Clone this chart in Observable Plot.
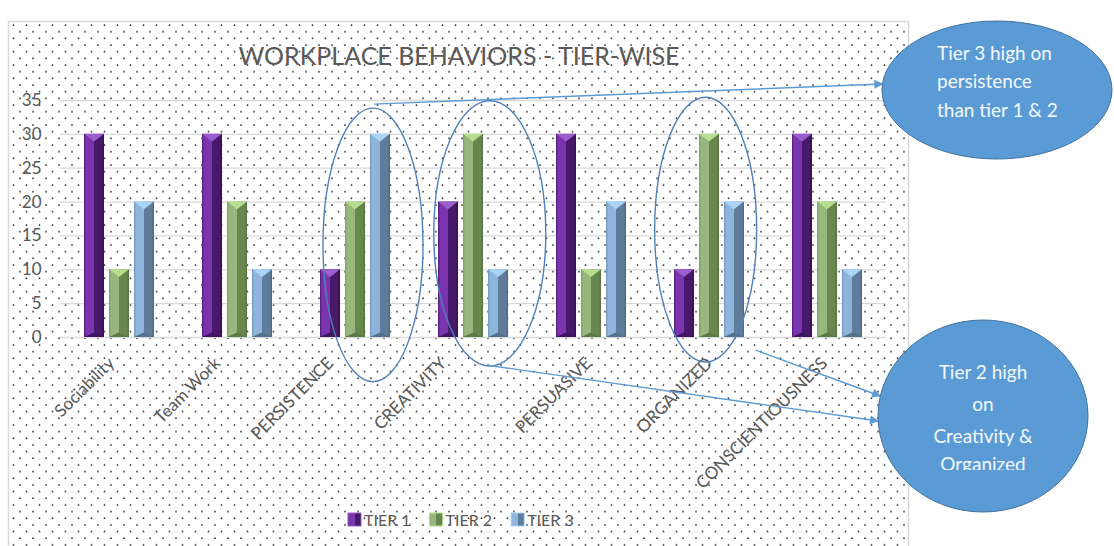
<!DOCTYPE html>
<html>
<head>
<meta charset="utf-8">
<script src="https://cdn.jsdelivr.net/npm/d3@7"></script>
<script src="https://cdn.jsdelivr.net/npm/@observablehq/plot@0.6"></script>
<style>
  html, body { margin: 0; padding: 0; background: #fff; }
  #chart { width: 1114px; height: 546px; overflow: hidden; }
  #chart svg g[aria-label^="fx-axis"] text { font-size: 17px; }
</style>
</head>
<body>
<div id="chart"></div>
<script>
// Behaviour categories and the score of each tier
const categories = ["Sociability", "Team Work", "PERSISTENCE", "CREATIVITY", "PERSUASIVE", "ORGANIZED", "CONSCIENTIOUSNESS"];
const tiers = ["TIER 1", "TIER 2", "TIER 3"];
const tier1 = [30, 30, 10, 20, 30, 10, 30];
const tier2 = [10, 20, 20, 30, 10, 30, 20];
const tier3 = [20, 10, 30, 10, 20, 20, 10];
const yTicks = [0, 5, 10, 15, 20, 25, 30, 35];

const title = "WORKPLACE BEHAVIORS - TIER-WISE";
const noteTop = ["Tier 3 high on", "persistence", "than tier 1 & 2"];
const noteBottom = ["Tier 2 high", "on", "Creativity &", "Organized"];

// horizontal nudge (px) of each slanted category label
const labelNudge = [-8, -20, -25, -30, -3, 0, -3];

const rows = categories.flatMap((category, i) => [
  {category, tier: tiers[0], value: tier1[i]},
  {category, tier: tiers[1], value: tier2[i]},
  {category, tier: tiers[2], value: tier3[i]}
]);

// bevelled column shading per tier
const bevel = [
  {edge: "#4d1b74", light: "#7a34ae", shade: "#48196b", deep: "#300f4b", top: "#9b5dcc", foot: "#3e1561"},
  {edge: "#7b9b61", light: "#96b87c", shade: "#68874f", deep: "#56723f", top: "#b6df8f", foot: "#5c7946"},
  {edge: "#6f93b7", light: "#8fb5dc", shade: "#5f7d9b", deep: "#4b6580", top: "#aad4f8", foot: "#55708b"}
];

const W = 1114, H = 546;

const plot = Plot.plot({
  width: W,
  height: H,
  marginLeft: 58,
  marginRight: 227,
  marginTop: 100,
  marginBottom: 209,
  style: {background: "transparent", fontFamily: "Lato, sans-serif", fontSize: "17px", color: "#595959", overflow: "visible"},
  facet: {data: rows, x: "category"},
  fx: {domain: categories, padding: 0, axis: "bottom", tickRotate: -45, tickSize: 0, tickPadding: 23, label: null},
  x: {domain: tiers, axis: null, paddingInner: 0.2, paddingOuter: 0.92},
  y: {domain: [0, 35], ticks: yTicks, tickSize: 0, tickPadding: 19, label: null},
  color: {domain: tiers, range: tiers.map((t, i) => `url(#bevel-${i})`)},
  marks: [
    Plot.ruleY(yTicks, {stroke: "#d9d9d9", strokeWidth: 1.3}),
    Plot.barY(rows, {x: "tier", y: "value", fill: "tier", inset: 0})
  ]
});

document.getElementById("chart").appendChild(plot);

const svg = d3.select(plot);
const ns = "http://www.w3.org/2000/svg";

// shift each slanted category label sideways
svg.selectAll('g[aria-label^="fx-axis"] text').each(function () {
  const k = categories.indexOf(this.textContent);
  if (k < 0) return;
  const t = this.getAttribute("transform") || "";
  this.setAttribute("transform", `translate(${labelNudge[k]},0) ${t}`);
});

// chart-area backdrop with the dotted fill
const backdrop = svg.insert("g", ":first-child");
const defs = svg.insert("defs", ":first-child");

const dots = defs.append("pattern")
  .attr("id", "dots").attr("patternUnits", "userSpaceOnUse")
  .attr("x", 17).attr("y", 28.7).attr("width", 13).attr("height", 13.33);
dots.append("circle").attr("cx", 3).attr("cy", 3).attr("r", 0.9).attr("fill", "#2a2a2a");
dots.append("circle").attr("cx", 9.5).attr("cy", 9.67).attr("r", 0.9).attr("fill", "#2a2a2a");

bevel.forEach((b, i) => {
  const g = defs.append("linearGradient").attr("id", `bevel-${i}`)
    .attr("x1", 0).attr("x2", 1).attr("y1", 0).attr("y2", 0);
  [[0, b.edge], [0.1, b.light], [0.5, b.light], [0.5, b.shade], [0.88, b.shade], [1, b.deep]]
    .forEach(([o, c]) => g.append("stop").attr("offset", o).attr("stop-color", c));
});

defs.append("marker").attr("id", "head")
  .attr("viewBox", "0 0 10 10").attr("refX", 9).attr("refY", 5)
  .attr("markerUnits", "userSpaceOnUse").attr("markerWidth", 11).attr("markerHeight", 9)
  .attr("orient", "auto")
  .append("path").attr("d", "M0,0L10,5L0,10Z").attr("fill", "#5b9bd5");

backdrop.append("rect").attr("x", 8.5).attr("y", 21.5).attr("width", 900).attr("height", 560)
  .attr("fill", "#fff");
backdrop.append("rect").attr("x", 8.5).attr("y", 21.5).attr("width", 900).attr("height", 560)
  .attr("fill", "url(#dots)").attr("stroke", "#d9d9d9").attr("stroke-width", 1.5);

// top and foot bevels on every column
svg.selectAll('g[aria-label="bar"] rect').each(function () {
  const r = d3.select(this);
  const x = +r.attr("x"), y = +r.attr("y"), w = +r.attr("width"), h = +r.attr("height");
  const m = /bevel-(\d)/.exec(r.attr("fill"));
  if (!m) return;
  const b = bevel[+m[1]];
  const t = Math.min(w * 0.38, h / 2);
  const top = document.createElementNS(ns, "polygon");
  top.setAttribute("points", `${x},${y} ${x + w},${y} ${x + w / 2},${y + t}`);
  top.setAttribute("fill", b.top);
  const foot = document.createElementNS(ns, "polygon");
  foot.setAttribute("points", `${x},${y + h} ${x + w},${y + h} ${x + w / 2},${y + h - t * 0.6}`);
  foot.setAttribute("fill", b.foot);
  this.parentNode.appendChild(top);
  this.parentNode.appendChild(foot);
});

// title
svg.append("text").attr("x", 459).attr("y", 65).attr("text-anchor", "middle")
  .attr("font-family", "Lato, sans-serif").attr("font-size", 25).attr("fill", "#595959")
  .text(title);

// legend
const color = plot.scale("color");
const legend = svg.append("g").attr("font-family", "Lato, sans-serif").attr("font-size", 16)
  .attr("fill", "#595959").attr("text-anchor", "start");
let lx = 348;
tiers.forEach((t, i) => {
  legend.append("rect").attr("x", lx).attr("y", 513).attr("width", 13).attr("height", 13)
    .attr("fill", color.apply(t)).attr("stroke", bevel[i].top).attr("stroke-width", 1);
  const label = legend.append("text").attr("x", lx + 16).attr("y", 526).text(t);
  lx += 16 + label.node().getComputedTextLength() + 19;
});

// annotations: circled groups, arrows and call-out bubbles
const fx = plot.scale("fx"), y = plot.scale("y");
const bw = (fx.range[1] - fx.range[0]) / categories.length;

const circled = [
  {category: "PERSISTENCE", at: 0.65, rx: 50, top: 33.8, bottom: -6.6},
  {category: "CREATIVITY", at: 0.64, rx: 56, top: 34.9, bottom: -4.3},
  {category: "ORGANIZED", at: 0.47, rx: 51, top: 35.4, bottom: -3.7}
].map(e => {
  const cx = fx.apply(e.category) + e.at * bw;
  const yt = y.apply(e.top), yb = y.apply(e.bottom);
  return {cx, cy: (yt + yb) / 2, rx: e.rx, ry: (yb - yt) / 2, yt, yb};
});

const bubbles = [
  {cx: 997, cy: 90, rx: 115, ry: 69},
  {cx: 983, cy: 416, rx: 105, ry: 96}
];
const edgeX = (b, yy) => b.cx - b.rx * Math.sqrt(Math.max(0, 1 - ((yy - b.cy) / b.ry) ** 2));

const notes = svg.append("g");
circled.forEach(e => notes.append("ellipse")
  .attr("cx", e.cx).attr("cy", e.cy).attr("rx", e.rx).attr("ry", e.ry)
  .attr("fill", "none").attr("stroke", "#4f81b8").attr("stroke-width", 1.4));

const arrows = [
  {x1: circled[0].cx + 1, y1: circled[0].yt - 4, bubble: bubbles[0], y2: 84},
  {x1: circled[1].cx - 3, y1: circled[1].yb - 1, bubble: bubbles[1], y2: 421},
  {x1: circled[2].cx + 50, y1: circled[2].yb - 12, bubble: bubbles[1], y2: 396}
];
arrows.forEach(a => notes.append("line")
  .attr("x1", a.x1).attr("y1", a.y1).attr("x2", edgeX(a.bubble, a.y2)).attr("y2", a.y2)
  .attr("stroke", "#5b9bd5").attr("stroke-width", 1.4).attr("marker-end", "url(#head)"));

bubbles.forEach(b => notes.append("ellipse")
  .attr("cx", b.cx).attr("cy", b.cy).attr("rx", b.rx).attr("ry", b.ry)
  .attr("fill", "#5b9bd5").attr("stroke", "#41719c").attr("stroke-width", 1));

const t1 = notes.append("text").attr("font-family", "Lato, sans-serif").attr("font-size", 19)
  .attr("fill", "#f4f8fc").attr("text-anchor", "start");
noteTop.forEach((s, i) => t1.append("tspan").attr("x", 937).attr("y", 59.5 + i * 28.5).text(s));

defs.append("clipPath").attr("id", "note-box").append("rect")
  .attr("x", 880).attr("y", 330).attr("width", 210).attr("height", 140);
const t2 = notes.append("text").attr("font-family", "Lato, sans-serif").attr("font-size", 19)
  .attr("fill", "#f4f8fc").attr("text-anchor", "middle").attr("clip-path", "url(#note-box)");
[379, 411, 443, 471].forEach((yy, i) => t2.append("tspan").attr("x", 983).attr("y", yy).text(noteBottom[i]));
</script>
</body>
</html>
